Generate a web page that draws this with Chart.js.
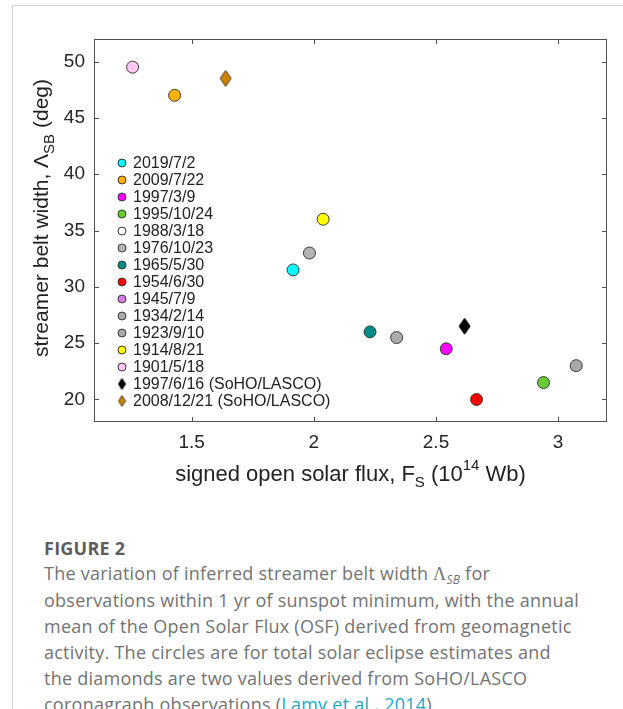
<!DOCTYPE html>
<html>
<head>
<meta charset="utf-8">
<script src="https://cdn.jsdelivr.net/npm/chart.js@4.4.0/dist/chart.umd.min.js"></script>
<style>
  body { margin: 0; background: #fff; width: 623px; height: 709px; overflow: hidden; position: relative; }
  .frame { position: absolute; left: 12px; top: 5px; right: -2px; bottom: -10px; border-left: 1px solid #d3d3d3; border-top: 1px solid #d3d3d3; }
  #wrap { position: absolute; left: 0; top: 0; width: 623px; height: 510px; }
  .caption { position: absolute; left: 44px; top: 536px; width: 575px; font-family: 'Open Sans', sans-serif; font-size: 18px; line-height: 26px; letter-spacing: 0.25px; color: #737373; white-space: nowrap; }
  .caption .fig { font-weight: 700; color: #5e5e5e; line-height: 24px; }
  .caption a { color: #1aa9c9; text-decoration: none; }
  .caption .sym { font-family: 'Liberation Serif', serif; }
  .caption .sub { font-size: 12px; font-style: italic; line-height: 0; position: relative; top: 4px; font-family: 'Open Sans', sans-serif; }
</style>
</head>
<body>
<div class="frame"></div>
<div id="wrap"><canvas id="belt" width="623" height="510"></canvas></div>
<div class="caption">
  <div class="fig">FIGURE 2</div>
  The variation of inferred streamer belt width <span class="sym">Λ</span><span class="sub">SB</span> for<br>
  observations within 1&nbsp;yr of sunspot minimum, with the annual<br>
  mean of the Open Solar Flux (OSF) derived from geomagnetic<br>
  activity. The circles are for total solar eclipse estimates and<br>
  the diamonds are two values derived from SoHO/LASCO<br>
  coronagraph observations (<a>Lamy et al., 2014</a>).
</div>
<script>
// eclipse / LASCO epochs near sunspot minimum
const dates = ['2019/7/2', '2009/7/22', '1997/3/9', '1995/10/24', '1988/3/18', '1976/10/23',
  '1965/5/30', '1954/6/30', '1945/7/9', '1934/2/14', '1923/9/10', '1914/8/21', '1901/5/18',
  '1997/6/16 (SoHO/LASCO)', '2008/12/21 (SoHO/LASCO)'];
// open solar flux, 10^14 Wb (null = not plotted)
const flux = [1.915, 1.43, 2.542, 2.94, null, 1.982, 2.23, 2.666, null, 2.339, 3.074, 2.038, 1.258, 2.617, 1.639];
// streamer belt width, deg
const beltWidth = [31.5, 47.0, 24.5, 21.5, null, 33.0, 26.0, 20.0, null, 25.5, 23.0, 36.0, 49.5, 26.5, 48.5];
const fillColors = ['#00ffff', '#ffb300', '#ff00ff', '#66cc33', '#ffffff', '#b4b4b4', '#008b8b', '#ff0000',
  '#d87ce4', '#acacac', '#a8a8a8', '#ffff00', '#ffc8f2', '#000000', '#cc8400'];
const markers = ['circle', 'circle', 'circle', 'circle', 'circle', 'circle', 'circle', 'circle',
  'circle', 'circle', 'circle', 'circle', 'circle', 'diamond', 'diamond'];
const xTicks = [1.5, 2, 2.5, 3];
const yTicks = [20, 25, 30, 35, 40, 45, 50];

const edge = '#3a3a3a';
const axisFont = '"Liberation Sans", Arial, sans-serif';

// matlab style diamond: taller than wide
function diamond(fill, w, h, stroke) {
    const c = document.createElement('canvas');
    c.width = w + 2;
    c.height = h + 2;
    const g = c.getContext('2d');
    g.beginPath();
    g.moveTo(c.width / 2, 1);
    g.lineTo(c.width - 1, c.height / 2);
    g.lineTo(c.width / 2, c.height - 1);
    g.lineTo(1, c.height / 2);
    g.closePath();
    g.fillStyle = fill;
    g.fill();
    g.strokeStyle = stroke;
    g.lineWidth = 1;
    g.stroke();
    return c;
}

const datasets = dates.map((d, i) => {
    const isDiamond = markers[i] === 'diamond';
    const stroke = fillColors[i] === '#000000' ? '#000' : edge;
    return {
        label: d,
        data: flux[i] === null ? [] : [{ x: flux[i], y: beltWidth[i] }],
        pointStyle: isDiamond ? diamond(fillColors[i], 11, 16, stroke) : 'circle',
        legendMarker: isDiamond ? diamond(fillColors[i], 7, 11, stroke) : null,
        pointRadius: 6,
        backgroundColor: fillColors[i],
        borderColor: edge,
        borderWidth: 1,
    };
});

//! box with inward ticks on all four sides
const boxAxes = {
    id: 'boxAxes',
    beforeDatasetsDraw(chart) {
        const { ctx, chartArea: a, scales: { x, y } } = chart;
        const t = 5;
        ctx.save();
        ctx.strokeStyle = '#505050';
        ctx.lineWidth = 1;
        ctx.strokeRect(a.left + 0.5, a.top + 0.5, a.width - 1, a.height - 1);
        ctx.beginPath();
        x.ticks.forEach(tk => {
            const px = Math.round(x.getPixelForValue(tk.value)) + 0.5;
            ctx.moveTo(px, a.bottom); ctx.lineTo(px, a.bottom - t);
            ctx.moveTo(px, a.top); ctx.lineTo(px, a.top + t);
        });
        y.ticks.forEach(tk => {
            const py = Math.round(y.getPixelForValue(tk.value)) + 0.5;
            ctx.moveTo(a.left, py); ctx.lineTo(a.left + t, py);
            ctx.moveTo(a.right, py); ctx.lineTo(a.right - t, py);
        });
        ctx.stroke();
        ctx.restore();
    }
};

// text with sub/superscripts, centred on (cx, cy)
function richText(ctx, parts, cx, cy) {
    let total = 0;
    parts.forEach(p => {
        ctx.font = p.size + 'px ' + axisFont;
        p.w = ctx.measureText(p.text).width;
        total += p.w;
    });
    let xx = cx - total / 2;
    parts.forEach(p => {
        ctx.font = p.size + 'px ' + axisFont;
        ctx.fillText(p.text, xx, cy + (p.dy || 0));
        xx += p.w;
    });
}

//! legend inside the axes + axis titles
const legendAndTitles = {
    id: 'legendAndTitles',
    afterDraw(chart) {
        const { ctx } = chart;
        ctx.save();
        ctx.fillStyle = '#222';
        ctx.textBaseline = 'middle';
        ctx.textAlign = 'left';

        chart.data.datasets.forEach((ds, i) => {
            const ly = 163 + i * 17;
            const lx = 122;
            if (ds.legendMarker) {
                const m = ds.legendMarker;
                ctx.drawImage(m, lx - m.width / 2, ly - m.height / 2);
            } else {
                ctx.beginPath();
                ctx.arc(lx, ly, 4, 0, Math.PI * 2);
                ctx.fillStyle = ds.backgroundColor;
                ctx.fill();
                ctx.strokeStyle = edge;
                ctx.lineWidth = 1;
                ctx.stroke();
            }
            ctx.fillStyle = '#222';
            ctx.font = '16px ' + axisFont;
            ctx.fillText(ds.label, 133, ly + 1);
        });

        const a = chart.chartArea;
        richText(ctx, [
            { text: 'signed open solar flux, F', size: 22 },
            { text: 'S', size: 15, dy: 8 },
            { text: ' (10', size: 22 },
            { text: '14', size: 15, dy: -9 },
            { text: ' Wb)', size: 22 },
        ], (a.left + a.right) / 2, 475);

        ctx.translate(42, 218);
        ctx.rotate(-Math.PI / 2);
        richText(ctx, [
            { text: 'streamer belt width, Λ', size: 21 },
            { text: 'SB', size: 15, dy: 8 },
            { text: ' (deg)', size: 21 },
        ], 0, 0);
        ctx.restore();
    }
};

const belt = document.getElementById('belt').getContext('2d');

new Chart(belt, {
    type: 'scatter',
    data: { datasets: datasets },
    options: {
        responsive: false,
        animation: false,
        events: [],
        layout: { padding: { left: 0, top: 39, right: 16, bottom: 0 } },
        scales: {
            x: {
                type: 'linear',
                min: 1.1,
                max: 3.2,
                afterFit: s => { s.height = 88; },
                afterBuildTicks: s => { s.ticks = xTicks.map(v => ({ value: v })); },
                grid: { display: false, drawTicks: false },
                border: { display: false },
                ticks: {
                    padding: 9,
                    color: '#262626',
                    font: { family: axisFont, size: 19 },
                    callback: v => String(v),
                }
            },
            y: {
                type: 'linear',
                min: 18,
                max: 52,
                afterFit: s => { s.width = 94; },
                afterBuildTicks: s => { s.ticks = yTicks.map(v => ({ value: v })); },
                grid: { display: false, drawTicks: false },
                border: { display: false },
                ticks: {
                    padding: 9,
                    color: '#262626',
                    font: { family: axisFont, size: 19 },
                    callback: v => String(v),
                }
            }
        },
        plugins: {
            legend: { display: false },
            tooltip: { enabled: false },
        }
    },
    plugins: [boxAxes, legendAndTitles]
});
</script>
</body>
</html>
